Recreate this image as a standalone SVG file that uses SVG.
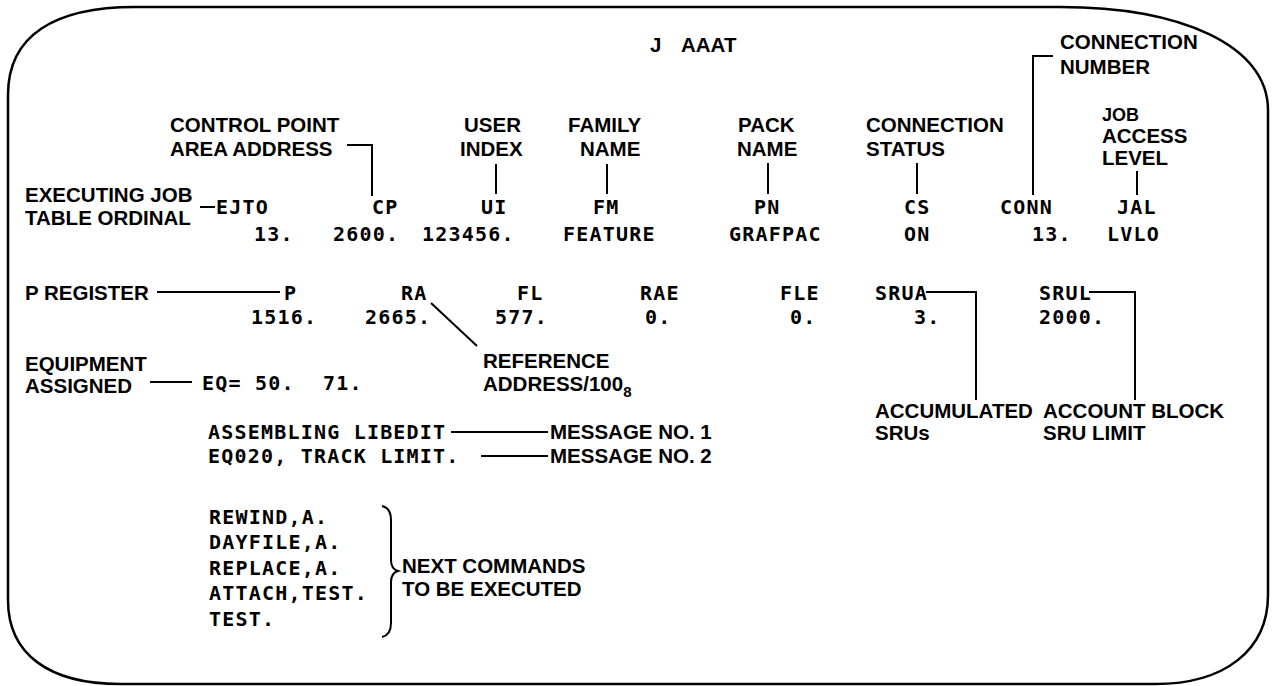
<svg xmlns="http://www.w3.org/2000/svg" width="1272" height="686" viewBox="0 0 1272 686">
<style>
.l{font-family:"Liberation Sans",Arial,sans-serif;font-weight:bold;font-size:20.5px;fill:#000}
.d{font-family:"DejaVu Sans Mono","Liberation Mono",monospace;font-weight:bold;font-size:20px;letter-spacing:1.2px;fill:#000}
.ln{fill:none;stroke:#000;stroke-width:2}
.fr{fill:none;stroke:#000;stroke-width:2.5}
</style>
<rect width="1272" height="686" fill="#fff"/>
<path class="fr" d="M135,7 L1060,7 C1180,7 1268,45 1268,110 L1268,595 C1268,650 1225,684 1155,684 L120,684 C50,684 8,655 8,600 L8,95 C8,35 55,7 135,7 Z"/>
<g id="title"><text class="l" x="650" y="52">J</text><text class="l" x="681" y="52">AAAT</text></g>
<g id="connectors">
<path class="ln" d="M1053,56 H1033 V195"/>
<path class="ln" d="M347,145 H372 V196"/>
<path class="ln" d="M496,164 V194"/>
<path class="ln" d="M607,164 V194"/>
<path class="ln" d="M768,163 V194"/>
<path class="ln" d="M917,163 V194"/>
<path class="ln" d="M1137,171 V195"/>
<path class="ln" d="M200,207 H215"/>
<path class="ln" d="M157,292 H280"/>
<path class="ln" d="M926,292 H976 V400"/>
<path class="ln" d="M1089,292 H1135 V400"/>
<path class="ln" d="M431,303 L477,346"/>
<path class="ln" d="M150,382 H192"/>
<path class="ln" d="M451,432 H548"/>
<path class="ln" d="M481,456 H548"/>
<path class="ln" d="M382,506 Q391,508 391,520 L391,560 Q391,569 398,571 Q391,573 391,582 L391,623 Q391,635 382,637"/>
</g>
<g id="conn-num"><text class="l" x="1060" y="49">CONNECTION</text><text class="l" x="1060" y="74">NUMBER</text></g>
<g id="cp-label"><text class="l" x="170" y="132">CONTROL POINT</text><text class="l" x="170" y="156">AREA ADDRESS</text></g>
<g id="ui-label"><text class="l" x="464" y="132">USER</text><text class="l" x="460" y="156">INDEX</text></g>
<g id="fm-label"><text class="l" x="568" y="132">FAMILY</text><text class="l" x="580" y="156">NAME</text></g>
<g id="pn-label"><text class="l" x="738" y="132">PACK</text><text class="l" x="737" y="156">NAME</text></g>
<g id="cs-label"><text class="l" x="866" y="132">CONNECTION</text><text class="l" x="866" y="156">STATUS</text></g>
<g id="jal-label"><text class="l" x="1102" y="121" style="font-size:18px">JOB</text><text class="l" x="1102" y="143">ACCESS</text><text class="l" x="1102" y="165">LEVEL</text></g>
<g id="ejto-label"><text class="l" x="25" y="202">EXECUTING JOB</text><text class="l" x="25" y="225">TABLE ORDINAL</text></g>
<g id="row1">
<text class="d" x="216" y="214">EJTO</text>
<text class="d" x="372" y="214">CP</text>
<text class="d" x="481" y="214">UI</text>
<text class="d" x="593" y="214">FM</text>
<text class="d" x="754" y="214">PN</text>
<text class="d" x="904" y="214">CS</text>
<text class="d" x="1000" y="214">CONN</text>
<text class="d" x="1117" y="214">JAL</text>
<text class="d" x="254" y="241">13.</text>
<text class="d" x="333" y="241">2600.</text>
<text class="d" x="422" y="241">123456.</text>
<text class="d" x="563" y="241">FEATURE</text>
<text class="d" x="729" y="241">GRAFPAC</text>
<text class="d" x="904" y="241">ON</text>
<text class="d" x="1032" y="241">13.</text>
<text class="d" x="1107" y="241">LVLO</text>
</g>
<g id="p-label"><text class="l" x="25" y="300">P REGISTER</text></g>
<g id="row2">
<text class="d" x="284" y="300">P</text>
<text class="d" x="401" y="300">RA</text>
<text class="d" x="517" y="300">FL</text>
<text class="d" x="640" y="300">RAE</text>
<text class="d" x="780" y="300">FLE</text>
<text class="d" x="875" y="300">SRUA</text>
<text class="d" x="1039" y="300">SRUL</text>
<text class="d" x="251" y="324">1516.</text>
<text class="d" x="365" y="324">2665.</text>
<text class="d" x="495" y="324">577.</text>
<text class="d" x="645" y="324">0.</text>
<text class="d" x="790" y="324">0.</text>
<text class="d" x="914" y="324">3.</text>
<text class="d" x="1039" y="324">2000.</text>
</g>
<g id="ra-label"><text class="l" x="483" y="368">REFERENCE</text><text class="l" x="483" y="391">ADDRESS/100<tspan dy="6" style="font-size:15px">8</tspan></text></g>
<g id="eq-label"><text class="l" x="25" y="371">EQUIPMENT</text><text class="l" x="25" y="393">ASSIGNED</text></g>
<g id="eq"><text class="d" x="202" y="390">EQ= 50.</text><text class="d" x="323" y="390">71.</text></g>
<g id="srua-label"><text class="l" x="875" y="418">ACCUMULATED</text><text class="l" x="875" y="440">SRUs</text></g>
<g id="srul-label"><text class="l" x="1043" y="418">ACCOUNT BLOCK</text><text class="l" x="1043" y="440">SRU LIMIT</text></g>
<g id="msg1"><text class="d" x="208" y="439">ASSEMBLING LIBEDIT</text><text class="l" x="550" y="439">MESSAGE NO. 1</text></g>
<g id="msg2"><text class="d" x="208" y="463">EQ020, TRACK LIMIT.</text><text class="l" x="550" y="463">MESSAGE NO. 2</text></g>
<g id="commands">
<text class="d" x="209" y="524">REWIND,A.</text>
<text class="d" x="209" y="549">DAYFILE,A.</text>
<text class="d" x="209" y="575">REPLACE,A.</text>
<text class="d" x="209" y="600">ATTACH,TEST.</text>
<text class="d" x="209" y="626">TEST.</text>
</g>
<g id="next-label"><text class="l" x="402" y="573">NEXT COMMANDS</text><text class="l" x="402" y="596">TO BE EXECUTED</text></g>
</svg>
